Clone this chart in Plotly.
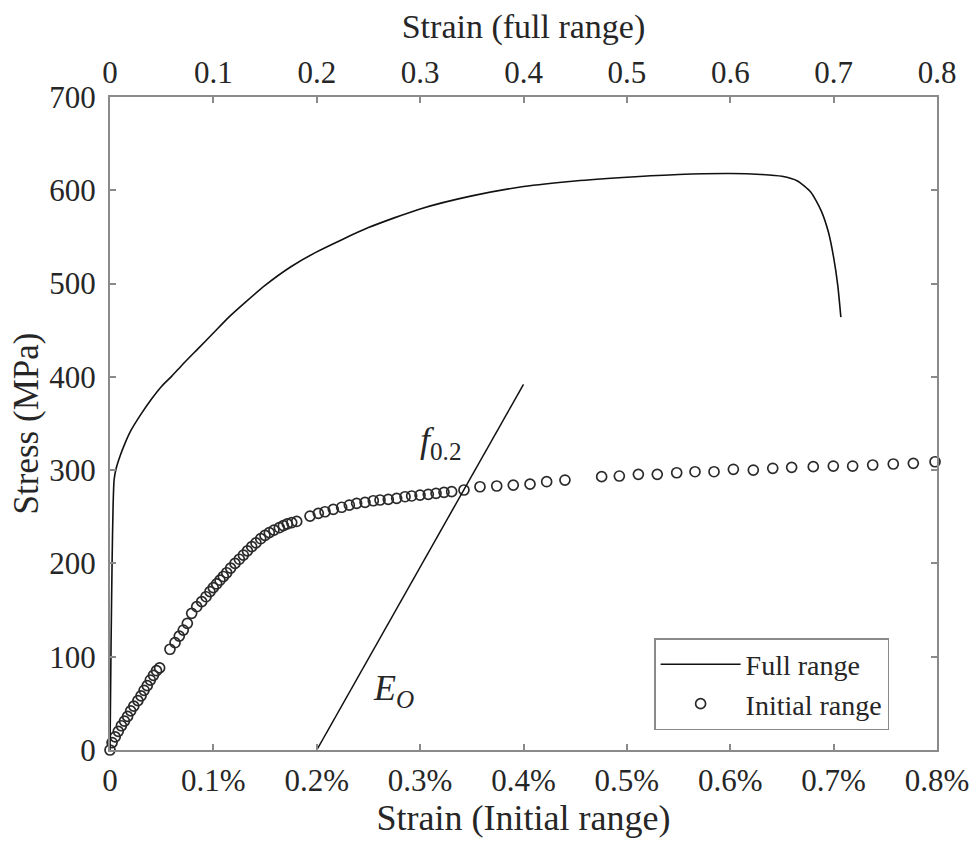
import plotly.graph_objects as go

# Full-range stress-strain curve (strain as fraction, stress in MPa)
full_strain = [0, 0.001, 0.002, 0.003, 0.004, 0.006, 0.01, 0.015, 0.02, 0.03, 0.04, 0.05,
               0.06, 0.07, 0.085, 0.1, 0.115, 0.13, 0.15, 0.175, 0.2, 0.25, 0.3, 0.35,
               0.4, 0.45, 0.5, 0.55, 0.6, 0.63, 0.65, 0.665, 0.678, 0.688, 0.695,
               0.70, 0.704, 0.707]
full_stress = [0, 110, 200, 262, 290, 302, 316, 330, 342, 360, 376, 390,
               401, 413, 430, 447, 464, 479, 498, 518, 534, 560, 580, 594,
               604, 610, 614, 617, 618, 617, 615, 610, 598, 578, 555,
               528, 498, 464]

# Initial-range test points (strain in %, stress in MPa)
init_strain = [0, 0.002, 0.005, 0.008, 0.011, 0.014, 0.017, 0.020, 0.023, 0.027,
               0.030, 0.033, 0.036, 0.039, 0.042, 0.045, 0.048,
               0.058, 0.0629, 0.067, 0.0709, 0.0748, 0.079, 0.0839, 0.0887, 0.0929,
               0.0967, 0.0999, 0.1032, 0.1064, 0.1096, 0.1129, 0.1167, 0.1209, 0.1251,
               0.129, 0.1329, 0.1371, 0.1412, 0.1458, 0.1499, 0.1541, 0.1586, 0.1638,
               0.1677, 0.1715, 0.1758, 0.1806,
               0.1935, 0.2015, 0.208, 0.216, 0.2241, 0.2315, 0.2386, 0.2467, 0.2547,
               0.2612, 0.2692, 0.2773, 0.2854, 0.2918, 0.2999, 0.3079, 0.3154, 0.3231,
               0.3305, 0.3424, 0.3579, 0.3741, 0.3901, 0.4063, 0.4224, 0.4401,
               0.4756, 0.4927, 0.5111, 0.5294, 0.5482, 0.5659, 0.5843, 0.603, 0.6223,
               0.6411, 0.6594, 0.6803, 0.6997, 0.7184, 0.7378, 0.7577, 0.7771, 0.7981]
init_stress = [0, 8, 14, 20, 26, 31, 36, 42, 47, 53,
               58, 64, 69, 75, 80, 85, 88,
               108, 115, 122, 128.6, 135.8, 146.5, 153.6, 159, 164.3,
               169.7, 174, 178, 182, 186, 190, 195, 200, 204.5,
               209, 213.5, 218, 222, 226.5, 230, 233, 235.8, 238.3,
               240.5, 242.3, 243.8, 245,
               250.8, 253.7, 255.4, 258, 260.2, 262.6, 264.4, 265.5, 267.2,
               268, 268.7, 269.8, 271.5, 272.3, 273.3, 274.1, 275.2, 276.2,
               276.9, 278.7, 282.2, 283, 284, 285, 287.6, 289.4,
               293, 293.7, 295.5, 295.5, 297.2, 298.3, 298.3, 300.9, 300.1,
               302, 303, 303.7, 304.4, 304.4, 305.5, 306.6, 307.3, 309]

# 0.2% offset line with initial modulus
offset_strain = [0.2, 0.4]
offset_stress = [0, 392]

x_ticks = [0, 0.1, 0.2, 0.3, 0.4, 0.5, 0.6, 0.7, 0.8]
bottom_labels = ["0", "0.1%", "0.2%", "0.3%", "0.4%", "0.5%", "0.6%", "0.7%", "0.8%"]
top_labels = ["0", "0.1", "0.2", "0.3", "0.4", "0.5", "0.6", "0.7", "0.8"]
y_ticks = [0, 100, 200, 300, 400, 500, 600, 700]

FONT = "Liberation Serif, Times New Roman, serif"
AXIS_GRAY = "#8a8a8a"
TEXT = "#262626"
TICK_SIZE = 31

fig = go.Figure()

fig.add_trace(go.Scatter(
    x=full_strain, y=full_stress, xaxis="x2", mode="lines",
    line=dict(color="#111111", width=1.6, shape="spline", smoothing=0.6),
    name="Full range"))

fig.add_trace(go.Scatter(
    x=init_strain, y=init_stress, mode="markers", cliponaxis=False,
    marker=dict(symbol="circle-open", size=10, color="#2a2a2a",
                line=dict(width=1.7, color="#2a2a2a")),
    name="Initial range"))

fig.add_trace(go.Scatter(
    x=offset_strain, y=offset_stress, mode="lines",
    line=dict(color="#111111", width=1.5), showlegend=False))

axis_common = dict(range=[0, 0.8], tickvals=x_ticks, showline=True, linecolor=AXIS_GRAY,
                   linewidth=2, ticks="inside", ticklen=6, tickcolor=AXIS_GRAY,
                   tickwidth=1.5, showgrid=False, zeroline=False, automargin=False,
                   tickfont=dict(family=FONT, size=TICK_SIZE, color=TEXT))

fig.update_layout(
    width=972, height=841,
    margin=dict(l=110, r=35, t=97, b=91),
    paper_bgcolor="white", plot_bgcolor="white",
    font=dict(family=FONT, color=TEXT),
    xaxis=dict(**axis_common, ticktext=bottom_labels, ticklabelstandoff=2,
               title=dict(text="Strain (Initial range)",
                          font=dict(family=FONT, size=36, color=TEXT),
                          standoff=2)),
    xaxis2=dict(**axis_common, ticktext=top_labels, overlaying="x", side="top",
                ticklabelstandoff=0,
                title=dict(text="Strain (full range)",
                           font=dict(family=FONT, size=34, color=TEXT),
                           standoff=6)),
    yaxis=dict(range=[0, 700], tickvals=y_ticks, showline=True, linecolor=AXIS_GRAY,
               linewidth=2, ticks="inside", ticklen=6, tickcolor=AXIS_GRAY, tickwidth=1.5,
               mirror="ticks", showgrid=False, zeroline=False, ticklabelstandoff=6,
               automargin=False,
               tickfont=dict(family=FONT, size=TICK_SIZE, color=TEXT),
               title=dict(text="Stress (MPa)",
                          font=dict(family=FONT, size=35, color=TEXT),
                          standoff=0)),
    legend=dict(x=0.80, y=0.101, xanchor="center", yanchor="middle",
                bordercolor=AXIS_GRAY, borderwidth=1.5, bgcolor="white",
                font=dict(family=FONT, size=28, color=TEXT), itemwidth=80,
                tracegroupgap=0),
    showlegend=True,
)

fig.add_annotation(x=0.32, y=330, xref="x", yref="y", showarrow=False,
                   text="<i>f</i><sub>0.2</sub>", font=dict(family=FONT, size=36, color=TEXT))
fig.add_annotation(x=0.274, y=64, xref="x", yref="y", showarrow=False,
                   text="<i>E</i><sub><i>O</i></sub>", font=dict(family=FONT, size=36, color=TEXT))

fig.write_html("out.html")
